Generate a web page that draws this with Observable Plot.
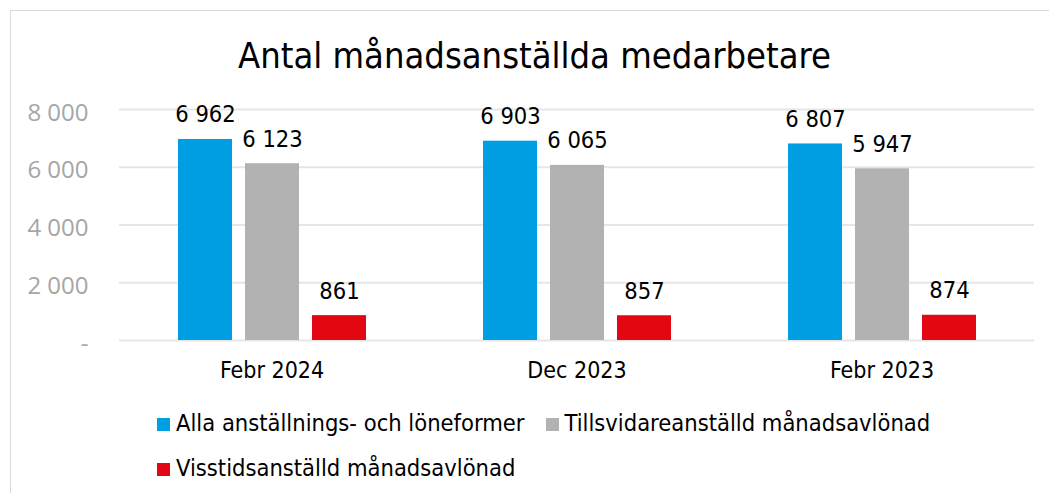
<!DOCTYPE html>
<html><head><meta charset="utf-8">
<script src="https://cdn.jsdelivr.net/npm/d3@7"></script>
<script src="https://cdn.jsdelivr.net/npm/@observablehq/plot@0.6"></script>
<style>
body{margin:0;background:#fff;width:1049px;height:493px;overflow:hidden;position:relative;font-family:"DejaVu Sans Condensed","DejaVu Sans",sans-serif;font-stretch:condensed}
#frame{position:absolute;left:10px;top:10px;width:1060px;height:520px;border:1px solid #d9d9d9;box-sizing:border-box}
#title{position:absolute;left:10px;width:1049px;top:35.5px;text-align:center;font-size:36px;line-height:40px;color:#000}
#chart{position:absolute;left:0;top:90px}
#legend{position:absolute;left:157px;top:408px;width:800px;display:flex;flex-wrap:wrap;column-gap:21px;row-gap:15px;font-size:23.5px;line-height:30px;color:#000}
.item{white-space:nowrap}
.sw{display:inline-block;width:13px;height:13px;margin-right:6px;vertical-align:baseline}
g[aria-label="y-axis tick label"] text{font-size:24px;font-family:"Open Sans",sans-serif;font-stretch:normal}
g[aria-label="fx-axis tick label"] text{font-size:23px}
</style></head>
<body>
<div id="frame"></div>
<div id="title">Antal månadsanställda medarbetare</div>
<div id="chart"></div>
<div id="legend"></div>
<script>
const periods = ["Febr 2024", "Dec 2023", "Febr 2023"];
const series = ["Alla anställnings- och löneformer", "Tillsvidareanställd månadsavlönad", "Visstidsanställd månadsavlönad"];
const alla = [6962, 6903, 6807];
const tillsvidare = [6123, 6065, 5947];
const visstid = [861, 857, 874];
const yTicks = [0, 2000, 4000, 6000, 8000];
const colors = ["#009FE3", "#B2B2B2", "#E30613"];

const values = [alla, tillsvidare, visstid];
const data = [];
periods.forEach((p, i) => series.forEach((s, j) => data.push({period: p, series: s, value: values[j][i]})));

const fmt = d3.formatLocale({thousands: " ", grouping: [3], decimal: ","}).format(",");
const tickFmt = d => d === 0 ? "-" : fmt(d);

const chart = Plot.plot({
  width: 1049, height: 290,
  marginLeft: 119, marginRight: 15, marginTop: 19, marginBottom: 40,
  style: {background: "none", overflow: "visible", fontFamily: "'DejaVu Sans Condensed','DejaVu Sans',sans-serif"},
  fx: {domain: periods, padding: 0, label: null},
  x: {domain: series, paddingInner: 0.2, paddingOuter: 0.86, axis: null},
  y: {domain: [0, 8000], label: null},
  color: {domain: series, range: colors},
  marks: [
    Plot.ruleY(yTicks, {stroke: "#e6e6e6", strokeWidth: 2}),
    Plot.barY(data, {fx: "period", x: "series", y: "value", fill: "series"}),
    Plot.text(data, {fx: "period", x: "series", y: "value", text: d => fmt(d.value), lineAnchor: "bottom", dy: -17, fontSize: 23.5, fill: "#000", fontStretch: "condensed"}),
    Plot.axisY(yTicks, {tickFormat: tickFmt, tickSize: 0, tickPadding: 31, fontSize: 24, color: "#a6a6a6", dy: 3.5, label: null}),
    Plot.axisFx({anchor: "bottom", tickSize: 0, tickPadding: 21, fontSize: 23, color: "#000", label: null})
  ]
});
document.getElementById("chart").appendChild(chart);

const leg = document.getElementById("legend");
series.forEach((s, i) => {
  const it = document.createElement("div"); it.className = "item";
  const sw = document.createElement("span"); sw.className = "sw"; sw.style.background = colors[i];
  const t = document.createElement("span"); t.textContent = s;
  it.appendChild(sw); it.appendChild(t); leg.appendChild(it);
});
</script>
</body></html>
